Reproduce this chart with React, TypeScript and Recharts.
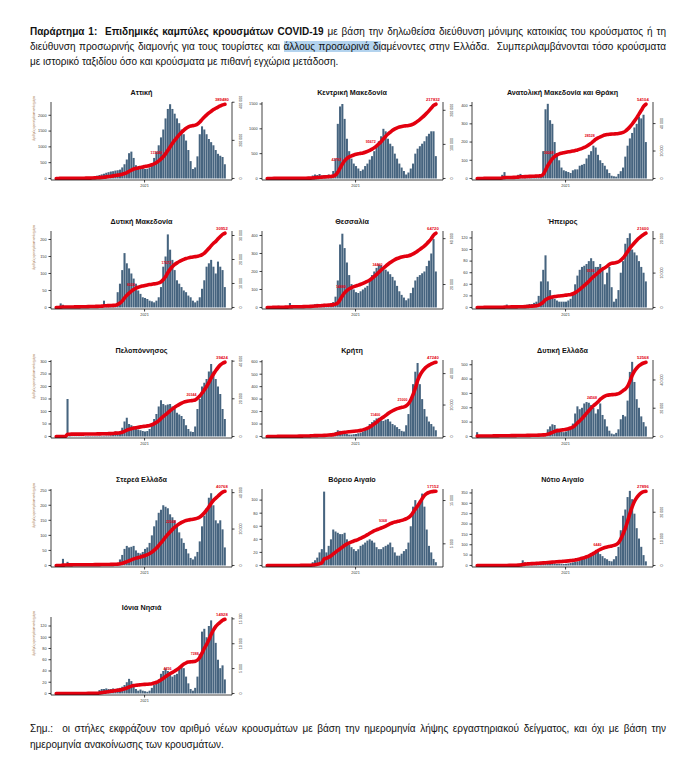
import React from "react";
import { Bar, ComposedChart, Line, XAxis, YAxis } from "recharts";

// Daily new cases, each value = average per day over an 8-day bin (late Feb 2020 - Oct 2021)
const REGIONS = [
  "Αττική",
  "Κεντρική Μακεδονία",
  "Ανατολική Μακεδονία και Θράκη",
  "Δυτική Μακεδονία",
  "Θεσσαλία",
  "Ήπειρος",
  "Πελοπόννησος",
  "Κρήτη",
  "Δυτική Ελλάδα",
  "Στερεά Ελλάδα",
  "Βόρειο Αιγαίο",
  "Νότιο Αιγαίο",
  "Ιόνια Νησιά",
];

const attiki = [
  5, 20, 40, 30, 15, 10, 8, 8, 10, 12,
  10, 10, 12, 15, 20, 30, 50, 70, 90, 110,
  130, 150, 180, 200, 220, 230, 250, 260, 280, 350,
  450, 600, 800, 850, 650, 420, 350, 320, 330, 300,
  310, 350, 450, 650, 850, 1050, 1300, 1550, 1900, 2200,
  2350, 2200, 2050, 1900, 1750, 1550, 1400, 1200, 900, 550,
  300, 350, 700, 1400, 1650, 1550, 1400, 1250, 1150, 1050,
  900, 780, 720, 680, 450,
];
const kentrikiMakedonia = [
  0, 5, 10, 8, 5, 3, 3, 2, 2, 3,
  3, 4, 5, 5, 6, 8, 10, 12, 15, 20,
  60, 80, 70, 90, 60, 70, 50, 80, 60, 150,
  400, 1100, 1450, 1500, 1200, 800, 550, 400, 300, 250,
  200, 150, 180, 250, 300, 380, 450, 550, 650, 750,
  850, 1000, 950, 800, 700, 650, 500, 400, 300, 220,
  150, 80, 120, 200, 300, 500, 600, 650, 700, 750,
  850, 900, 950, 950, 450,
];
const anatolikiMakedoniaThraki = [
  0, 0, 2, 3, 2, 1, 1, 1, 2, 3,
  5, 20, 35, 10, 5, 3, 5, 8, 20, 25,
  10, 8, 8, 10, 12, 10, 12, 10, 15, 150,
  380, 410, 320, 300, 200, 140, 100, 60, 45, 40,
  35, 30, 45, 50, 50, 70, 75, 80, 110, 130,
  150, 180, 170, 130, 100, 85, 70, 50, 30, 15,
  12, 10, 25, 40, 60, 120, 180, 220, 250, 280,
  300, 340, 330, 350, 200,
];
const dytikiMakedonia = [
  0, 2, 12, 8, 2, 1, 1, 1, 2, 2,
  2, 2, 3, 3, 3, 3, 3, 4, 4, 5,
  5, 20, 5, 4, 5, 6, 10, 45, 70, 110,
  160, 130, 115, 100, 85, 70, 50, 40, 30, 28,
  25, 20, 18, 15, 20, 30, 60, 120, 150, 215,
  170, 140, 110, 80, 70, 60, 50, 45, 35, 30,
  20, 15, 20, 30, 55, 80, 120, 130, 140, 120,
  100, 135, 120, 110, 60,
];
const thessalia = [
  0, 2, 3, 3, 5, 10, 5, 3, 3, 5,
  25, 5, 3, 4, 4, 5, 6, 8, 10, 12,
  15, 18, 20, 15, 18, 20, 15, 18, 20, 30,
  60, 150, 350, 410, 330, 250, 180, 130, 100, 85,
  80, 90, 100, 110, 120, 150, 180, 200, 220, 240,
  235, 220, 210, 200, 185, 170, 150, 120, 90, 70,
  55, 40, 50, 80, 110, 150, 170, 180, 190, 200,
  230, 260, 300, 380, 200,
];
const ipeiros = [
  0, 0, 1, 1, 1, 1, 1, 1, 1, 1,
  1, 1, 2, 5, 2, 1, 1, 1, 2, 2,
  2, 3, 5, 6, 6, 8, 10, 20, 45, 65,
  90, 45, 30, 20, 15, 12, 10, 10, 10, 10,
  12, 15, 25, 40, 55, 65, 70, 72, 75, 80,
  85, 80, 70, 70, 75, 65, 40, 60, 70, 35,
  10, 15, 30, 60, 80, 110, 120, 128, 100, 95,
  90, 80, 70, 60, 45,
];
const peloponnisos = [
  0, 0, 0, 0, 0, 150, 2, 1, 1, 1,
  1, 1, 1, 2, 2, 2, 2, 2, 2, 3,
  3, 3, 4, 4, 5, 8, 20, 10, 20, 35,
  60, 75, 50, 45, 40, 30, 28, 25, 22, 20,
  22, 30, 45, 70, 90, 120, 145, 130, 125, 128,
  130, 120, 110, 95, 88, 82, 70, 45, 30, 20,
  18, 40, 110, 150, 200, 215, 230, 260, 290, 260,
  230, 200, 170, 110, 70,
];
const kriti = [
  0, 0, 1, 1, 1, 2, 2, 2, 2, 2,
  2, 2, 3, 3, 3, 3, 3, 4, 4, 5,
  15, 5, 5, 6, 6, 8, 10, 12, 15, 20,
  35, 50, 45, 40, 25, 20, 15, 15, 18, 20,
  25, 30, 40, 55, 75, 100, 115, 130, 145, 150,
  130, 125, 135, 140, 120, 100, 90, 75, 60, 45,
  40, 90, 180, 300, 420, 520, 590, 420, 300, 220,
  160, 120, 100, 80, 50,
];
const dytikiEllada = [
  30, 5, 2, 2, 2, 2, 3, 3, 3, 3,
  3, 3, 3, 3, 3, 3, 3, 3, 3, 3,
  3, 3, 4, 4, 4, 5, 5, 6, 8, 12,
  20, 50, 70, 85, 80, 55, 40, 32, 30, 35,
  45, 65, 90, 160, 210, 190, 200, 230, 240, 235,
  220, 200, 160, 190, 230, 150, 120, 70, 40, 20,
  15, 25, 50, 120, 150, 140, 250, 450, 520, 380,
  260, 200, 140, 100, 70,
];
const stereaEllada = [
  0, 0, 2, 22, 5, 12, 2, 1, 1, 1,
  1, 1, 1, 1, 1, 1, 2, 2, 2, 2,
  2, 2, 2, 3, 5, 4, 8, 6, 20, 35,
  55, 65, 60, 62, 65, 50, 42, 40, 45, 55,
  60, 75, 100, 130, 150, 175, 185, 200, 195, 190,
  170, 160, 150, 130, 110, 90, 75, 55, 40, 25,
  20, 30, 45, 80, 130, 165, 190, 225, 240, 200,
  150, 140, 150, 120, 60,
];
const voreioAigaio = [
  0, 0, 0, 0, 0, 0, 0, 0, 0, 0,
  0, 0, 0, 0, 1, 1, 1, 1, 1, 2,
  5, 8, 12, 20, 25, 113, 20, 30, 40, 55,
  52, 50, 48, 48, 50, 40, 32, 28, 25, 22,
  25, 30, 32, 35, 38, 40, 38, 35, 28, 25,
  25, 28, 30, 32, 35, 28, 20, 15, 15, 18,
  22, 25, 35, 60, 90, 100, 90, 100, 110, 90,
  55, 30, 20, 10, 5,
];
const notioAigaio = [
  0, 0, 0, 0, 0, 0, 0, 0, 0, 0,
  0, 0, 1, 1, 1, 2, 2, 3, 5, 10,
  25, 15, 8, 8, 7, 6, 6, 7, 8, 8,
  8, 8, 8, 9, 10, 8, 8, 8, 7, 8,
  10, 12, 15, 18, 20, 25, 30, 35, 40, 45,
  55, 60, 65, 70, 55, 45, 35, 30, 22, 20,
  30, 45, 90, 170, 240, 270, 330, 360, 320, 250,
  180, 130, 90, 50, 20,
];
const ioniaNisia = [
  0, 0, 0, 0, 0, 0, 0, 0, 0, 0,
  0, 0, 0, 1, 1, 1, 1, 1, 2, 6,
  8, 8, 9, 8, 8, 9, 8, 9, 10, 12,
  15, 20, 26, 22, 15, 8, 5, 7, 5, 4,
  3, 5, 10, 15, 20, 25, 35, 40, 45, 40,
  35, 30, 33, 35, 45, 50, 45, 30, 18, 8,
  5, 10, 30, 70, 110, 115, 100, 120, 130, 110,
  90, 60, 45, 50, 25,
];

const SERIES = [
  attiki, kentrikiMakedonia, anatolikiMakedoniaThraki, dytikiMakedonia,
  thessalia, ipeiros, peloponnisos, kriti, dytikiEllada, stereaEllada,
  voreioAigaio, notioAigaio, ioniaNisia,
];

// left axis tick labels and the top of each left axis
const LEFT_TICKS = [
  [0, 500, 1000, 1500, 2000],
  [0, 500, 1000, 1500],
  [0, 100, 200, 300, 400],
  [0, 50, 100, 150, 200],
  [0, 100, 200, 300, 400],
  [0, 20, 40, 60, 80, 100, 120],
  [0, 50, 100, 150, 200, 250, 300],
  [0, 100, 200, 300, 400, 500, 600],
  [0, 100, 200, 300, 400, 500],
  [0, 50, 100, 150, 200, 250],
  [0, 20, 40, 60, 80, 100],
  [0, 50, 100, 150, 200, 250, 300, 350],
  [0, 20, 40, 60, 80, 100, 120],
];
const LEFT_MAX = [2420, 1540, 420, 225, 425, 132, 306, 614, 533, 254, 117, 369, 136];

// bins where an intermediate cumulative total is printed
const MID_LABELS = [
  [47], [33, 48], [34, 52], [35, 51], [35, 51], [52], [62],
  [50, 62], [53], [53], [53], [55], [51, 63],
];

const BIN_DAYS = 8;
const YEAR_TICK = 38.75;

const BAR = "#46647f";
const RED = "#e3000f";
const FONT = "'Liberation Sans', Arial, sans-serif";

const COL_X = [51, 261.5, 472];
const ROW_Y = [93, 222, 351, 480, 608];
const PLOT_W = 181;
const PLOT_H = 78;

function niceStep(max: number) {
  const raw = max / 4;
  const p = Math.pow(10, Math.floor(Math.log10(raw)));
  for (const m of [1, 2, 2.5, 5, 10]) {
    if (m * p >= raw) return m * p;
  }
  return 10 * p;
}

const fmt = (v: number) =>
  String(Math.round(v)).replace(/\B(?=(\d{3})+(?!\d))/g, " ");

function RightTick(props: any) {
  const { x, y, payload } = props;
  const tx = x + 6;
  return (
    <text
      x={tx}
      y={y}
      transform={`rotate(-90 ${tx} ${y})`}
      textAnchor="middle"
      fontSize={3.6}
      fill="#333"
      fontFamily={FONT}
    >
      {fmt(payload.value)}
    </text>
  );
}

function Panel({ idx }: { idx: number }) {
  const col = idx % 3;
  const row = Math.floor(idx / 3);
  const axisX = COL_X[col];
  const titleY = ROW_Y[row];
  const daily = SERIES[idx];

  let run = 0;
  const data = daily.map((v, i) => {
    run += v * BIN_DAYS;
    return { t: i, daily: v, cum: run };
  });
  const total = run;
  const step = niceStep(total);
  const rightTicks: number[] = [];
  for (let v = 0; v <= total * 1.03; v += step) rightTicks.push(v);
  const rMax = total * 1.03;
  const lMax = LEFT_MAX[idx];
  const last = daily.length - 1;
  const mids = MID_LABELS[idx];

  const label = (p: any) => {
    const { x, y, index, value } = p;
    if (index === last) {
      return (
        <text key={index} x={x - 3} y={y - 3.5} fontSize={4.2} fontWeight="bold"
          fill={RED} textAnchor="middle" fontFamily={FONT}>
          {Math.round(value)}
        </text>
      );
    }
    if (mids.includes(index)) {
      return (
        <text key={index} x={x - 1} y={y - 2.5} fontSize={3.6} fontWeight="bold"
          fill={RED} textAnchor="end" fontFamily={FONT}>
          {Math.round(value)}
        </text>
      );
    }
    return <g key={index} />;
  };

  const left = axisX - 8 - 32;
  const top = titleY - 8 - 10;

  return (
    <>
      <div
        style={{
          position: "absolute",
          left: axisX - 8,
          top: titleY - 8 - 5,
          width: PLOT_W,
          textAlign: "center",
          fontFamily: FONT,
          fontWeight: "bold",
          fontSize: 7.2,
          lineHeight: "9px",
          color: "#111",
          whiteSpace: "nowrap",
        }}
      >
        {REGIONS[idx]}
      </div>
      <div style={{ position: "absolute", left, top }}>
        <ComposedChart
          width={32 + PLOT_W + 14 + 4}
          height={19 + PLOT_H + 12 + 3}
          data={data}
          margin={{ top: 19, right: 4, bottom: 3, left: 8 }}
        >
          <XAxis
            dataKey="t"
            type="number"
            domain={[-2.3, 77.1]}
            allowDataOverflow
            ticks={[YEAR_TICK]}
            tickFormatter={() => "2021"}
            tick={{ fontSize: 3.8, fill: "#333", fontFamily: FONT }}
            tickSize={2.5}
            height={12}
            stroke="#111"
            strokeWidth={0.8}
          />
          <YAxis
            yAxisId="l"
            width={24}
            domain={[-lMax * 0.02, lMax]}
            allowDataOverflow
            ticks={LEFT_TICKS[idx]}
            tick={{ fontSize: 3.8, fill: "#333", fontFamily: FONT }}
            tickSize={2.5}
            stroke="#111"
            strokeWidth={0.8}
            label={
              col === 0
                ? {
                    value: "Αριθμός κρουσμάτων ανά ημέρα",
                    angle: -90,
                    position: "insideLeft",
                    offset: 7,
                    fontSize: 3.4,
                    fill: "#9c6b3c",
                  }
                : undefined
            }
          />
          <YAxis
            yAxisId="r"
            orientation="right"
            width={14}
            domain={[-rMax * 0.02, rMax]}
            allowDataOverflow
            ticks={rightTicks}
            tick={<RightTick />}
            tickSize={2.5}
            stroke="#111"
            strokeWidth={0.8}
          />
          <Bar
            yAxisId="l"
            dataKey="daily"
            fill={BAR}
            barSize={2.3}
            isAnimationActive={false}
          />
          <Line
            yAxisId="r"
            dataKey="cum"
            type="monotone"
            stroke={RED}
            strokeWidth={3.6}
            strokeLinecap="round"
            dot={false}
            label={label}
            isAnimationActive={false}
          />
        </ComposedChart>
      </div>
    </>
  );
}

const headerStyle: React.CSSProperties = {
  position: "absolute",
  left: 22,
  width: 636,
  fontFamily: "'Liberation Sans Narrow', 'Liberation Sans', Arial, sans-serif",
  fontSize: 10,
  lineHeight: "14px",
  color: "#111",
  whiteSpace: "nowrap",
};

export default function App() {
  return (
    <div style={{ position: "relative", width: 687, height: 754, background: "#fff" }}>
      <div style={{ ...headerStyle, top: 17, textAlign: "justify", textAlignLast: "justify" }}>
        <b>Παράρτημα 1:&nbsp; Επιδημικές καμπύλες κρουσμάτων COVID-19</b> με βάση την δηλωθείσα
        διεύθυνση μόνιμης κατοικίας του κρούσματος ή τη
      </div>
      <div style={{ ...headerStyle, top: 32, textAlign: "justify", textAlignLast: "justify" }}>
        διεύθυνση προσωρινής διαμονής για τους τουρίστες και{" "}
        <span style={{ background: "#b3d3ee" }}>άλλους προσωρινά δι</span>αμένοντες στην
        Ελλάδα.&nbsp; Συμπεριλαμβάνονται τόσο κρούσματα
      </div>
      <div style={{ ...headerStyle, top: 47 }}>
        με ιστορικό ταξιδίου όσο και κρούσματα με πιθανή εγχώρια μετάδοση.
      </div>

      {REGIONS.map((_, i) => (
        <Panel key={i} idx={i} />
      ))}

      <div style={{ ...headerStyle, top: 714, textAlign: "justify", textAlignLast: "justify" }}>
        Σημ.:&nbsp; οι στήλες εκφράζουν τον αριθμό νέων κρουσμάτων με βάση την ημερομηνία λήψης
        εργαστηριακού δείγματος, και όχι με βάση την
      </div>
      <div style={{ ...headerStyle, top: 730 }}>
        ημερομηνία ανακοίνωσης των κρουσμάτων.
      </div>
    </div>
  );
}
